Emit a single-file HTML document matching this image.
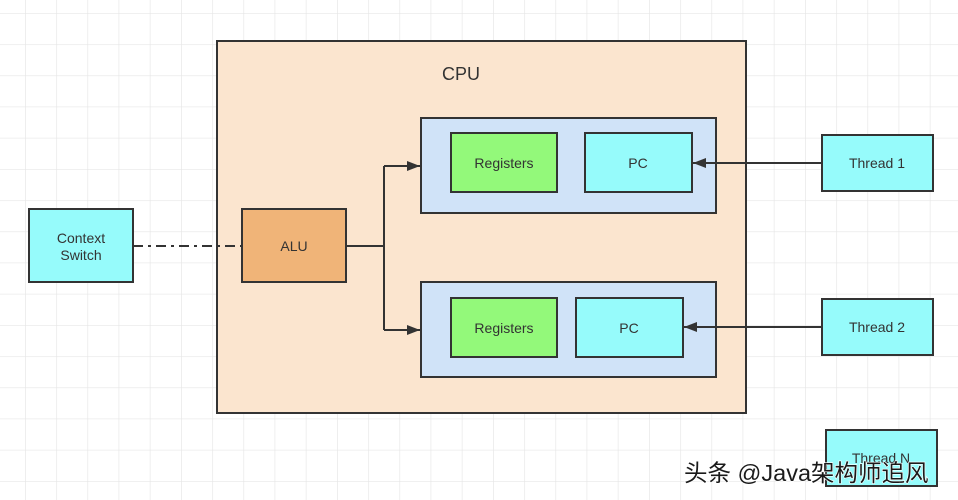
<!DOCTYPE html>
<html><head><meta charset="utf-8"><style>
html,body{margin:0;padding:0;background:#fff;}
svg{display:block;}
text{font-family:"Liberation Sans","Noto Sans CJK SC",sans-serif;fill:#333;}
</style></head><body>
<svg width="958" height="500" viewBox="0 0 958 500" xmlns="http://www.w3.org/2000/svg">
<defs>
<pattern id="g" x="25" y="13" width="31.2" height="31.2" patternUnits="userSpaceOnUse">
<path d="M0 0 V31.2 M0 0 H31.2" stroke="#e6e6e6" stroke-width="1.3" fill="none"/>
</pattern>
<marker id="a" markerWidth="13" markerHeight="10" refX="13" refY="5" orient="auto" markerUnits="userSpaceOnUse">
<path d="M0 0 L13 5 L0 10 Z" fill="#333"/>
</marker>
</defs>
<rect width="958" height="500" fill="url(#g)"/>
<g stroke="#333" stroke-width="2">
<rect x="217" y="41" width="529" height="372" fill="#fbe5cf"/>
<rect x="421" y="118" width="295" height="95" fill="#d0e3f8"/>
<rect x="421" y="282" width="295" height="95" fill="#d0e3f8"/>
<rect x="451" y="133" width="106" height="59" fill="#93f97a"/>
<rect x="585" y="133" width="107" height="59" fill="#96fbfb"/>
<rect x="451" y="298" width="106" height="59" fill="#93f97a"/>
<rect x="576" y="298" width="107" height="59" fill="#96fbfb"/>
<rect x="822" y="135" width="111" height="56" fill="#96fbfb"/>
<rect x="822" y="299" width="111" height="56" fill="#96fbfb"/>
<rect x="826" y="430" width="111" height="56" fill="#96fbfb"/>
<rect x="29" y="209" width="104" height="73" fill="#96fbfb"/>
<rect x="242" y="209" width="104" height="73" fill="#f0b478"/>
<path d="M346 246 H384 M384 166 V330" fill="none"/>
<path d="M384 166 H420" fill="none" marker-end="url(#a)"/>
<path d="M384 330 H420" fill="none" marker-end="url(#a)"/>
<path d="M822 163 H693" fill="none" marker-end="url(#a)"/>
<path d="M822 327 H684" fill="none" marker-end="url(#a)"/>
<path d="M133 246 H242" fill="none" stroke-dasharray="10 5 3 5"/>
</g>
<g font-size="14" text-anchor="middle">
<text x="461" y="80" font-size="18">CPU</text>
<text x="504" y="168">Registers</text>
<text x="638" y="168">PC</text>
<text x="504" y="333">Registers</text>
<text x="629" y="333">PC</text>
<text x="877" y="168">Thread 1</text>
<text x="877" y="332">Thread 2</text>
<text x="881" y="463">Thread N</text>
<text x="81" y="243">Context</text>
<text x="81" y="260">Switch</text>
<text x="294" y="251">ALU</text>
</g>
<text x="684" y="481" font-size="23.5" stroke="#fff" stroke-width="1.2" paint-order="stroke" style="fill:#1a1a1a">头条 @Java架构师追风</text>
</svg>
</body></html>
